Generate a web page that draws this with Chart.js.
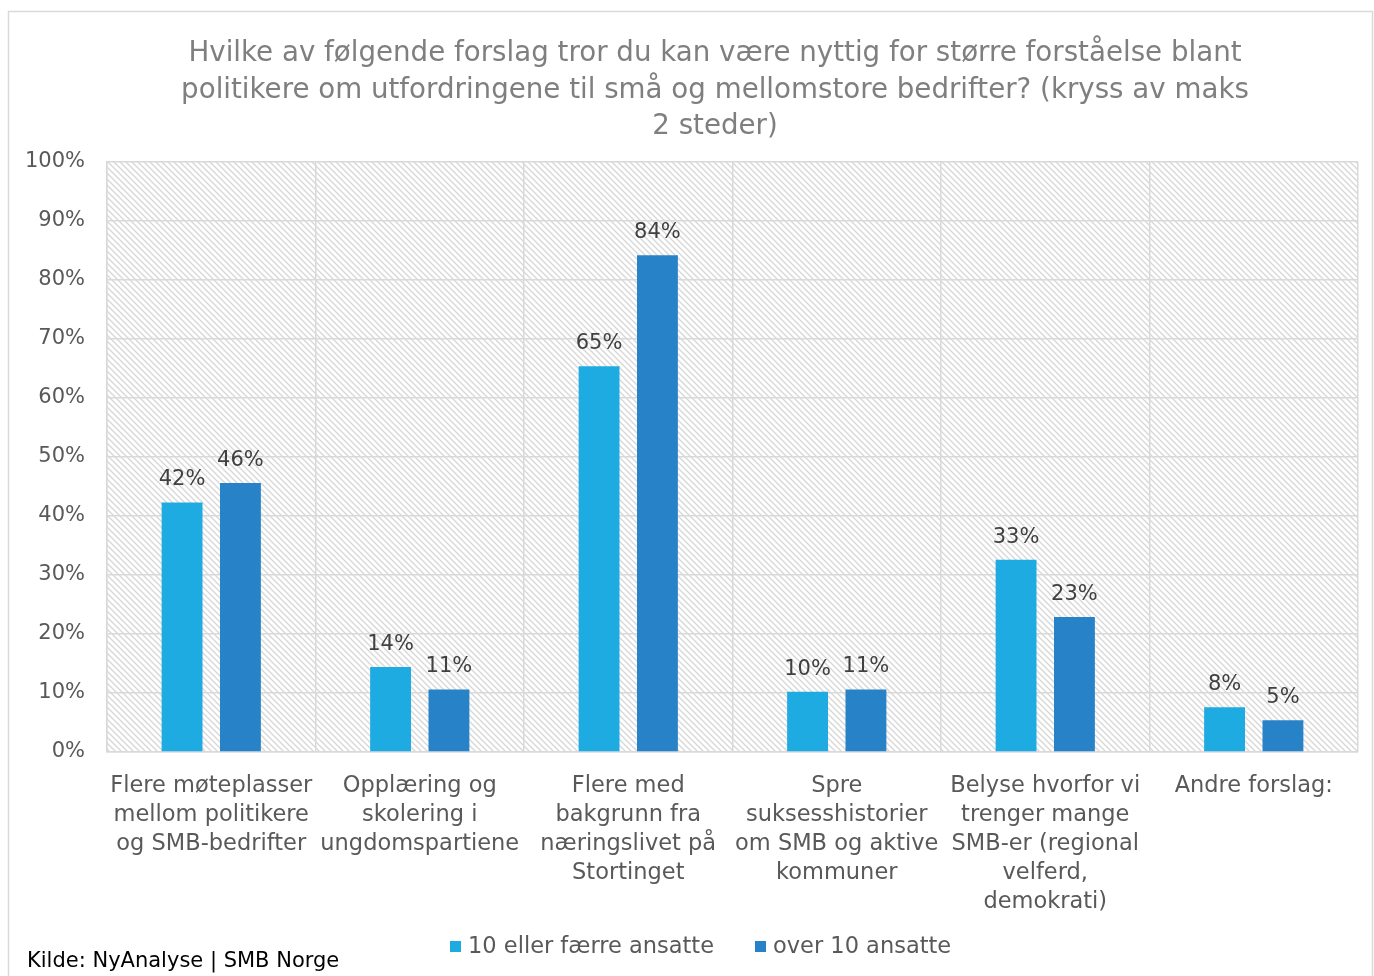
<!DOCTYPE html>
<html>
<head>
<meta charset="utf-8">
<script src="https://cdn.jsdelivr.net/npm/chart.js@4"></script>
<style>
  body { margin: 0; background: #fff; }
  canvas { display: block; }
</style>
</head>
<body>
<canvas id="chart" width="1374" height="976"></canvas>
<script>
// Data
const titleLines = [
    'Hvilke av følgende forslag tror du kan være nyttig for større forståelse blant',
    'politikere om utfordringene til små og mellomstore bedrifter? (kryss av maks',
    '2 steder)'
];
const categories = [
    ['Flere møteplasser', 'mellom politikere', 'og SMB-bedrifter'],
    ['Opplæring og', 'skolering i', 'ungdomspartiene'],
    ['Flere med', 'bakgrunn fra', 'næringslivet på', 'Stortinget'],
    ['Spre', 'suksesshistorier', 'om SMB og aktive', 'kommuner'],
    ['Belyse hvorfor vi', 'trenger mange', 'SMB-er (regional', 'velferd,', 'demokrati)'],
    ['Andre forslag:']
];
const seriesNames = ['10 eller færre ansatte', 'over 10 ansatte'];
const seriesColors = ['#1eabe2', '#2782c8'];
const smallFirms = [42.3, 14.4, 65.4, 10.2, 32.6, 7.6];
const largeFirms = [45.6, 10.6, 84.2, 10.6, 22.9, 5.4];
const yTicks = [0, 10, 20, 30, 40, 50, 60, 70, 80, 90, 100];
const sourceText = 'Kilde: NyAnalyse | SMB Norge';

const FONT = '"DejaVu Sans", sans-serif';
const GRID = '#d9d9d9';

// diagonal hatch for the plot background
function makeHatch() {
    const c = document.createElement('canvas');
    c.width = 6; c.height = 6;
    const g = c.getContext('2d');
    g.strokeStyle = '#d6d6d6';
    g.lineWidth = 1.3;
    g.beginPath();
    g.moveTo(-1, -1); g.lineTo(7, 7);
    g.moveTo(-1, 5); g.lineTo(1, 7);
    g.moveTo(5, -1); g.lineTo(7, 1);
    g.stroke();
    return c;
}

const decorPlugin = {
    id: 'decor',
    beforeDraw(chart) {
        const ctx = chart.ctx;
        const a = chart.chartArea;
        ctx.save();
        ctx.fillStyle = '#fff';
        ctx.fillRect(0, 0, chart.width, chart.height);
        ctx.strokeStyle = GRID;
        ctx.lineWidth = 1.5;
        ctx.strokeRect(8.5, 11.5, chart.width - 10, chart.height + 20);
        ctx.fillStyle = ctx.createPattern(makeHatch(), 'repeat');
        ctx.fillRect(a.left, a.top, a.right - a.left, a.bottom - a.top);
        // title
        ctx.fillStyle = '#7f7f7f';
        ctx.font = '27.7px ' + FONT;
        ctx.textAlign = 'center';
        ctx.textBaseline = 'middle';
        titleLines.forEach((t, i) => ctx.fillText(t, 715, 54 + i * 36.5));
        // source
        ctx.fillStyle = '#000';
        ctx.font = '21px ' + FONT;
        ctx.textAlign = 'left';
        ctx.fillText(sourceText, 27, 962);
        // legend
        ctx.font = '22.5px ' + FONT;
        const xs = [450, 755];
        seriesNames.forEach((name, i) => {
            ctx.fillStyle = seriesColors[i];
            ctx.fillRect(xs[i], 941, 11, 11);
            ctx.fillStyle = '#595959';
            ctx.fillText(name, xs[i] + 18, 947);
        });
        ctx.restore();
    },
    afterDatasetsDraw(chart) {
        const ctx = chart.ctx;
        ctx.save();
        ctx.fillStyle = '#404040';
        ctx.font = '21px ' + FONT;
        ctx.textAlign = 'center';
        ctx.textBaseline = 'bottom';
        chart.data.datasets.forEach((ds, di) => {
            chart.getDatasetMeta(di).data.forEach((bar, i) => {
                ctx.fillText(Math.round(ds.data[i]) + '%', bar.x, bar.y - 12);
            });
        });
        ctx.restore();
    }
};

new Chart(document.getElementById('chart'), {
    type: 'bar',
    data: {
        labels: categories,
        datasets: [
            { label: seriesNames[0], data: smallFirms, backgroundColor: seriesColors[0] },
            { label: seriesNames[1], data: largeFirms, backgroundColor: seriesColors[1] }
        ]
    },
    options: {
        responsive: false,
        animation: false,
        layout: { padding: { top: 162, left: 20, right: 16, bottom: 54 } },
        datasets: { bar: { categoryPercentage: 0.56, barPercentage: 0.7 } },
        scales: {
            x: {
                grid: { color: GRID, lineWidth: 1.5, drawTicks: false, offset: true },
                border: { color: GRID, width: 1.5 },
                ticks: {
                    color: '#595959', padding: 20, maxRotation: 0, autoSkip: false,
                    font: { family: FONT, size: 22.5, lineHeight: 1.29 }
                },
                afterFit(s) { s.height = 170; }
            },
            y: {
                min: 0, max: 100,
                afterBuildTicks(s) { s.ticks = yTicks.map(v => ({ value: v })); },
                grid: { color: GRID, lineWidth: 1.5, drawTicks: false },
                border: { color: GRID, width: 1.5 },
                ticks: {
                    color: '#595959', padding: 22,
                    font: { family: FONT, size: 21 },
                    callback: v => v + '%'
                },
                afterFit(s) { s.width = 87; }
            }
        },
        plugins: {
            title: { display: false },
            tooltip: { enabled: false },
            legend: { display: false }
        }
    },
    plugins: [decorPlugin]
});
</script>
</body>
</html>
